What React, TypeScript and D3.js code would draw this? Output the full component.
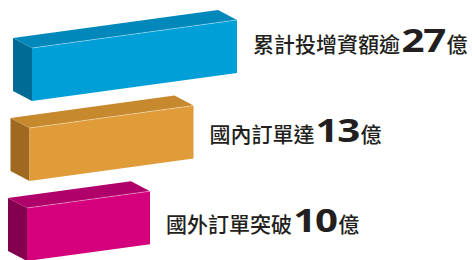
import React from 'react';
import * as d3 from 'd3';

const categories = ['投增資', '國內訂單', '國外訂單'];
const values = [27, 13, 10];
const labelTexts = ['累計投增資額逾', '國內訂單達', '國外訂單突破'];
const unitText = '億';

// front / top / side shades per bar
const frontColors = ['#009fd8', '#df9c38', '#d5007b'];
const topColors = ['#0088bb', '#c7892e', '#b0006a'];
const sideColors = ['#006b95', '#9f6a20', '#83004e'];

const width = 472;
const height = 260;

const App: React.FC = () => {
  const barH = 53;
  const slope = -0.137;
  const depth = { dx: -19, dy: -10 };

  // bar lengths from values (infographic, not proportional)
  const len = d3.scaleLinear().domain([10, 13, 27]).range([123, 164, 205]);
  const yTop = d3.scalePoint<string>().domain(categories).range([48, 208]);
  const xLeft = d3.scalePoint<string>().domain(categories).range([32, 27]);
  const yLabel = d3.scalePoint<string>().domain(categories).range([52, 232]);

  const line = d3.line();

  return (
    <svg
      width={width}
      height={height}
      style={{ position: 'absolute', left: 0, top: 0, background: '#fff' }}
    >
      {categories.map((c, i) => {
        const x0 = xLeft(c)!;
        const y0 = yTop(c)!;
        const L = len(values[i]);
        const x1 = x0 + L;
        const y1 = y0 + slope * L;
        const front: [number, number][] = [
          [x0, y0], [x1, y1], [x1, y1 + barH], [x0, y0 + barH],
        ];
        const top: [number, number][] = [
          [x0, y0], [x1, y1], [x1 + depth.dx, y1 + depth.dy], [x0 + depth.dx, y0 + depth.dy],
        ];
        const side: [number, number][] = [
          [x0, y0], [x0, y0 + barH], [x0 + depth.dx, y0 + barH + depth.dy], [x0 + depth.dx, y0 + depth.dy],
        ];
        const ly = yLabel(c)!;
        const lx = x1 + 16;
        const cjkW = 21.2;
        const numX = lx + labelTexts[i].length * cjkW;
        return (
          <g key={c}>
            <path d={line(side)! + 'Z'} fill={sideColors[i]} />
            <path d={line(top)! + 'Z'} fill={topColors[i]} />
            <path d={line(front)! + 'Z'} fill={frontColors[i]} />
            <path d={line([[x0, y0], [x1, y1]])!} stroke="#fff" strokeOpacity={0.45} strokeWidth={0.8} fill="none" />
            <text
              x={lx}
              y={ly}
              fill="#231f20"
              fontFamily="'Noto Sans CJK TC', 'Noto Sans CJK SC', sans-serif"
              fontSize={21}
              fontWeight={500}
            >
              {labelTexts[i]}
            </text>
            <text
              transform={`translate(${numX},${ly}) scale(1.22,1)`}
              fill="#231f20"
              fontFamily="'Noto Sans', 'Liberation Sans', sans-serif"
              fontSize={33}
              fontWeight={700}
              letterSpacing={-1}
            >
              {String(values[i])}
            </text>
            <text
              x={numX + 45}
              y={ly}
              fill="#231f20"
              fontFamily="'Noto Sans CJK TC', 'Noto Sans CJK SC', sans-serif"
              fontSize={21}
              fontWeight={500}
            >
              {unitText}
            </text>
          </g>
        );
      })}
    </svg>
  );
};

export default App;
